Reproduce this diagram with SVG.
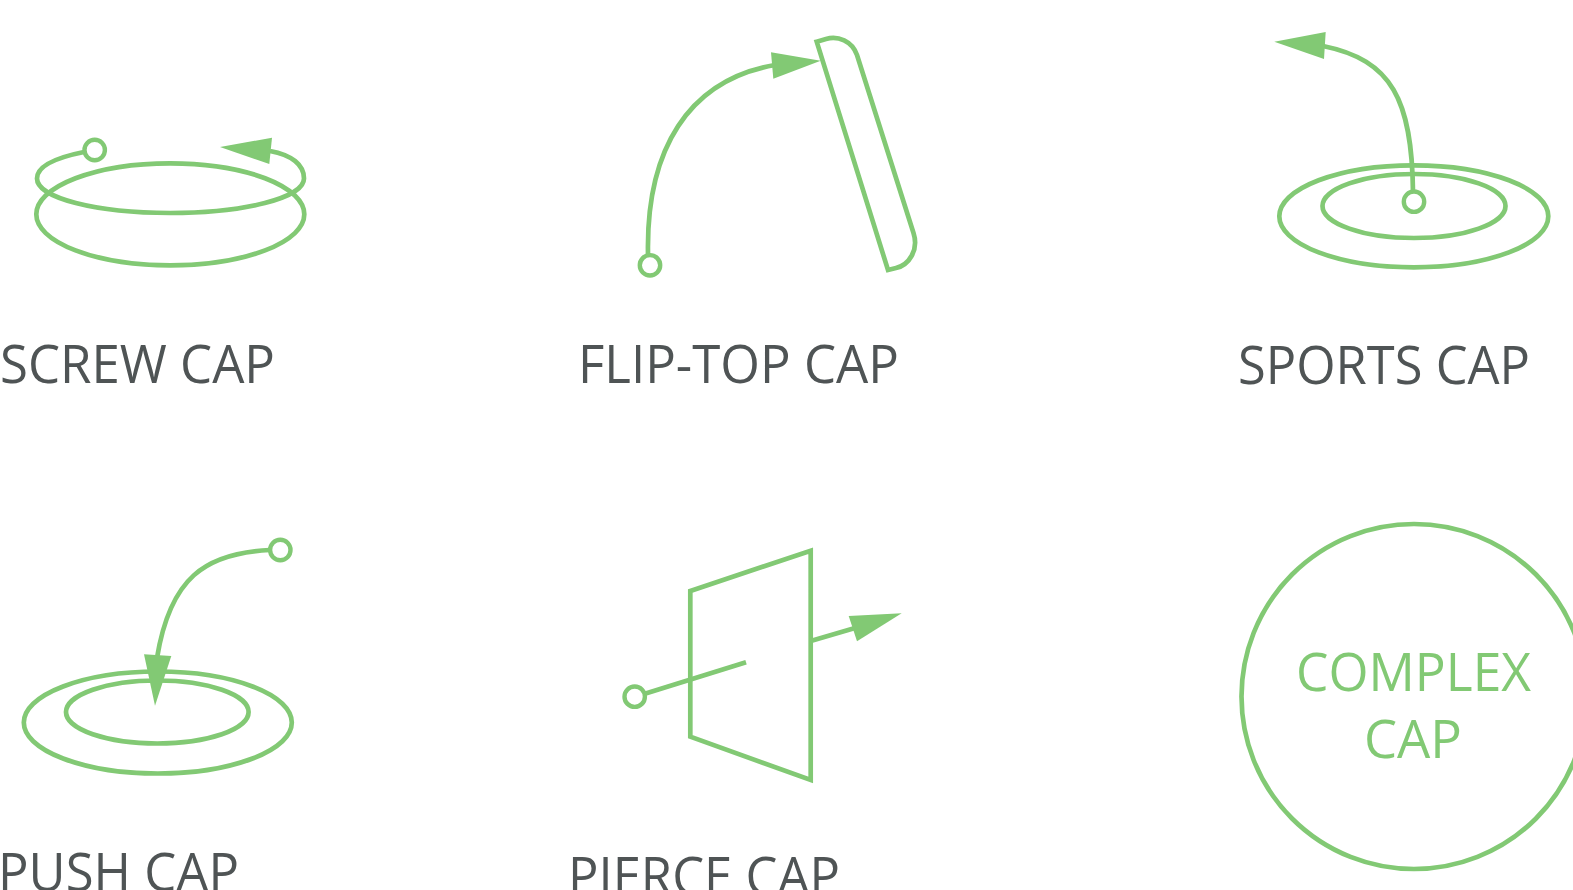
<svg xmlns="http://www.w3.org/2000/svg" width="1573" height="890" viewBox="0 0 1573 890">
<style>
.l{fill:none;stroke:#82C974;stroke-width:4.7}
.d{fill:#fff;stroke:#82C974;stroke-width:4.4}
.a{fill:#82C974;stroke:none}
text{font-family:"Open Sans","Noto Sans","Liberation Sans",sans-serif;font-size:53px}
.t{fill:#4F5455}
.g{fill:#82C974}
</style>
<rect width="1573" height="890" fill="#fff"/>
<g id="screw-cap">
<ellipse class="l" cx="170.300" cy="214.300" rx="134" ry="51"/>
<text class="t" x="0" y="382.700" textLength="275" lengthAdjust="spacingAndGlyphs">SCREW CAP</text>
</g>
<g id="flip-top-cap">
<path class="l" d="M816.700,41.700 L826,39 C838,35.500 852,41 857,55 L913.500,233 C919,250 909,265 896,268 L888,270 Z"/>
<text class="t" x="578" y="382.700" textLength="321" lengthAdjust="spacingAndGlyphs">FLIP-TOP CAP</text>
</g>
<g id="sports-cap">
<ellipse class="l" cx="1413.800" cy="216.300" rx="134.500" ry="51"/>
<ellipse class="l" cx="1414" cy="206" rx="91.500" ry="32"/>
<text class="t" x="1238" y="384.300" textLength="292" lengthAdjust="spacingAndGlyphs">SPORTS CAP</text>
</g>
<g id="push-cap">
<ellipse class="l" cx="157.800" cy="722.500" rx="134" ry="51"/>
<ellipse class="l" cx="157.300" cy="712" rx="91.300" ry="31.500"/>
<text class="t" x="-2" y="891" textLength="241" lengthAdjust="spacingAndGlyphs">PUSH CAP</text>
</g>
<g id="pierce-cap">
<path class="l" d="M690.300,591 L810.700,550.700 V780 L690.300,736.700 Z"/>
<text class="t" x="568" y="895" textLength="272" lengthAdjust="spacingAndGlyphs">PIERCE CAP</text>
</g>
<g id="complex-cap">
<circle class="l" cx="1414" cy="696.500" r="172.500"/>
<text class="g" x="1296" y="690.700" textLength="235" lengthAdjust="spacingAndGlyphs">COMPLEX</text>
<text class="g" x="1364" y="758.300" textLength="98" lengthAdjust="spacingAndGlyphs">CAP</text>
</g>
<g id="connectors">
<path class="l" d="M84,152 C54,158 37,167 37,178.500 C37,198 96,213 170.300,213 C244,213 304,198 304,178.500 C304,165 292,155 270,151"/>
<polygon class="a" points="220,147 272,137.700 269.300,164"/>
<circle class="d" cx="94.700" cy="150" r="10.200"/>
<path class="l" d="M648,254 C646,150 688,80 775,65"/>
<polygon class="a" points="820.700,60.700 771,52.300 773.300,78.700"/>
<circle class="d" cx="650" cy="265.300" r="10.200"/>
<path class="l" d="M1413,192 C1412,100 1392,60 1323,46"/>
<polygon class="a" points="1274.300,41.700 1325.700,32 1324,59"/>
<circle class="d" cx="1414" cy="201.700" r="10.200"/>
<path class="l" d="M270,550 C205,553 170,578 157,658"/>
<polygon class="a" points="155,705.700 144,654.300 171.300,656"/>
<circle class="d" cx="280.300" cy="550" r="10.200"/>
<line class="l" x1="644" y1="694" x2="746" y2="662.300"/>
<line class="l" x1="810.700" y1="641" x2="855" y2="628"/>
<polygon class="a" points="901.700,613.300 848.700,616 857,641.300"/>
<circle class="d" cx="634.700" cy="696.700" r="10.200"/>
</g>
</svg>
